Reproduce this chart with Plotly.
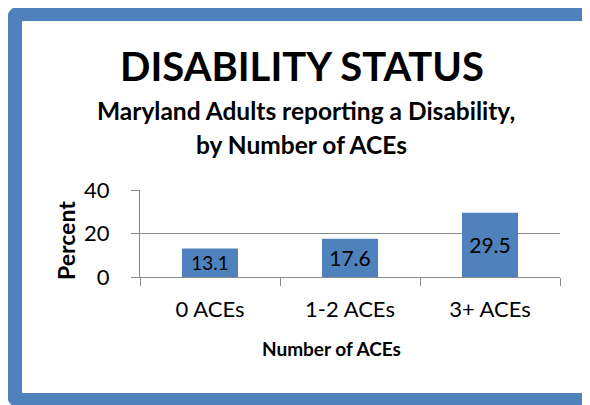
import plotly.graph_objects as go

# data
categories = ['0 ACEs', '1-2 ACEs', '3+ ACEs']
percent = [13.1, 17.6, 29.5]
y_ticks = [0, 20, 40]

BLUE = '#4F81BD'
GRID = '#898989'
FONT = 'Lato'

OFF = 8                 # page body margin of the html page
W, H = 590 - OFF, 405 - OFF
# plot area in reference pixels: x 140..560, y 190..277
L, T = 140 - OFF, 190 - OFF
R, B = W - (560 - OFF), H - (277 - OFF)


def px(x, y):
    """reference pixel -> paper coords"""
    x, y = x - OFF, y - OFF
    return (x - L) / (W - L - R), (H - B - y) / (H - T - B)


fig = go.Figure(go.Bar(
    x=categories,
    y=percent,
    width=0.4,
    marker=dict(color=BLUE, line=dict(width=0)),
    text=[f'{v:.1f}' for v in percent],
    textposition='inside',
    insidetextanchor='middle',
    textfont=dict(family=FONT, size=21, color='black'),
    cliponaxis=False,
))

# blue frame round the whole chart, rounded corners
x0, y0 = px(14, 13)
x1, y1 = px(590, 401)
rx, ry = 10 / (W - L - R), 10 / (H - T - B)
path = (f'M {x0 + rx},{y0} L {x1 - rx},{y0} Q {x1},{y0} {x1},{y0 - ry} '
        f'L {x1},{y1 + ry} Q {x1},{y1} {x1 - rx},{y1} '
        f'L {x0 + rx},{y1} Q {x0},{y1} {x0},{y1 + ry} '
        f'L {x0},{y0 - ry} Q {x0},{y0} {x0 + rx},{y0} Z')
fig.add_shape(type='path', path=path, xref='paper', yref='paper',
              line=dict(color=BLUE, width=16))

annots = [
    ('<b>DISABILITY STATUS</b>', 302, 66, 40),
    ('<b>Maryland Adults reporting a Disability,</b>', 306, 110, 24.5),
    ('<b>by Number of ACEs</b>', 301, 144, 24.5),
    ('<b>Number of ACEs</b>', 331, 348, 19),
]
for txt, ax, ay, size in annots:
    xx, yy = px(ax, ay)
    fig.add_annotation(text=txt, x=xx, y=yy, xref='paper', yref='paper',
                       showarrow=False, xanchor='center', yanchor='middle',
                       font=dict(family=FONT, size=size, color='black'))

xx, yy = px(66, 241)
fig.add_annotation(text='<b>Percent</b>', x=xx, y=yy, xref='paper', yref='paper',
                   showarrow=False, textangle=-90, xanchor='center', yanchor='middle',
                   font=dict(family=FONT, size=23, color='black'))

fig.update_layout(
    width=W, height=H,
    margin=dict(l=L, r=R, t=T, b=B),
    paper_bgcolor='white',
    plot_bgcolor='white',
    showlegend=False,
    font=dict(family=FONT, color='black'),
    xaxis=dict(
        type='category',
        showgrid=False,
        showline=True, linecolor=GRID, linewidth=1,
        ticks='outside', tickson='boundaries', ticklen=8, tickcolor=GRID,
        tickfont=dict(family=FONT, size=22, color='black'),
        ticklabelstandoff=13,
    ),
    yaxis=dict(
        range=[0, 40],
        tickvals=y_ticks,
        showgrid=True, gridcolor=GRID, gridwidth=1,
        showline=True, linecolor=GRID, linewidth=1,
        zeroline=False,
        ticks='outside', ticklen=8, tickcolor=GRID,
        tickfont=dict(family=FONT, size=22, color='black'),
        ticklabelstandoff=17,
    ),
)

fig.write_html('out.html')
